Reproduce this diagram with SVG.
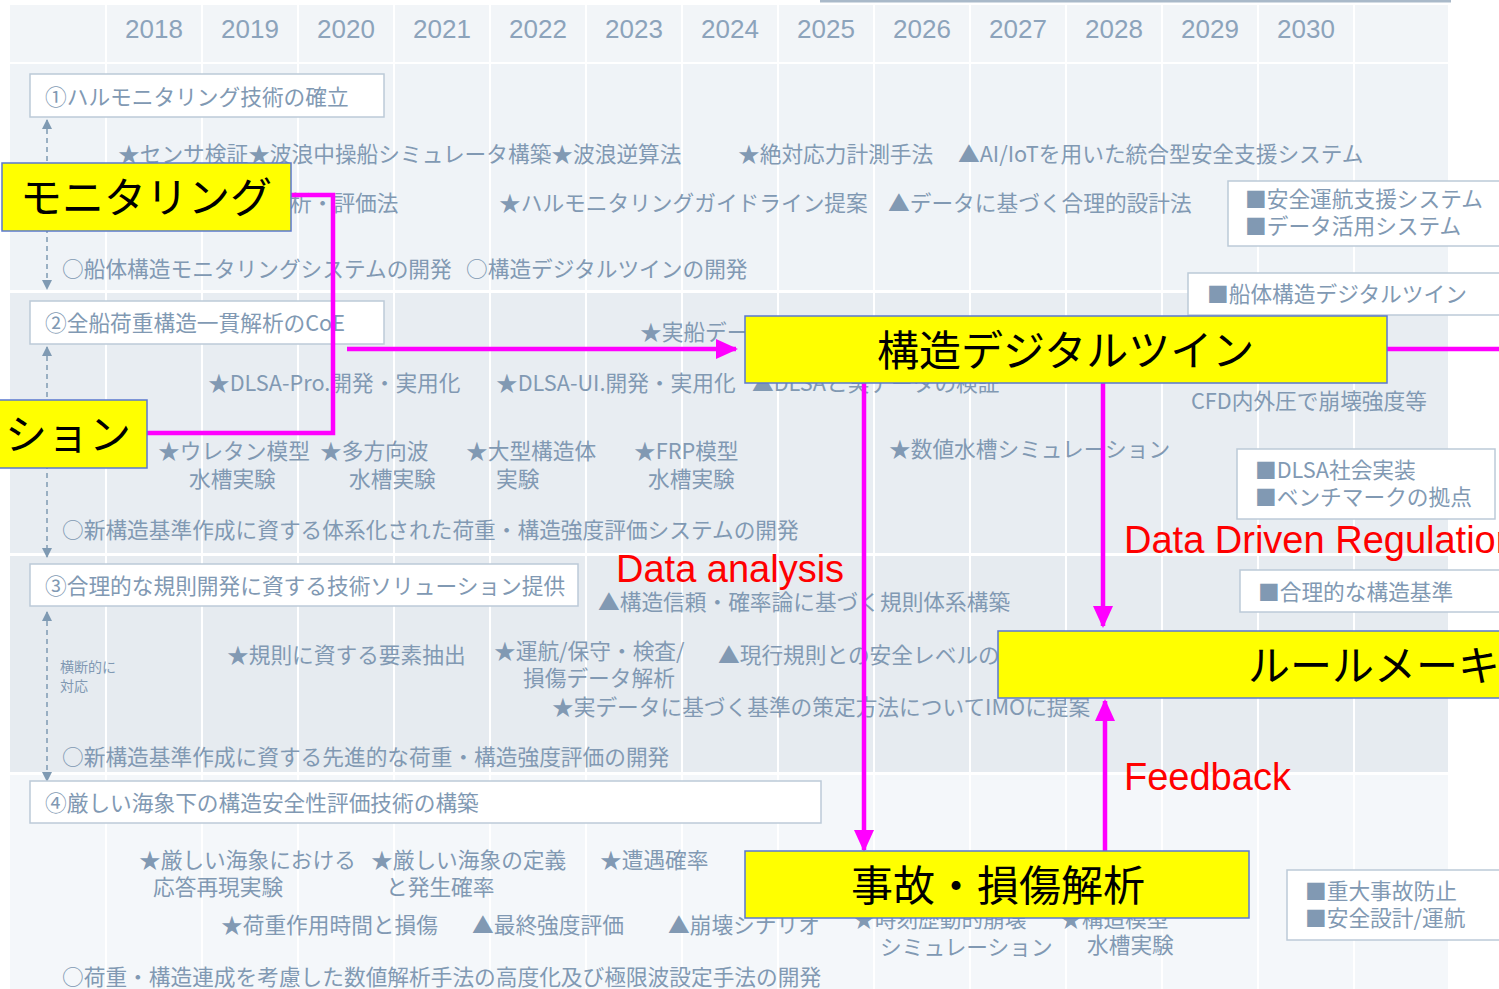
<svg xmlns="http://www.w3.org/2000/svg" width="1499" height="989" viewBox="0 0 1499 989">
<defs>
<style>
.t{font-family:"Noto Sans CJK JP","Noto Sans",sans-serif;font-size:21.7px;fill:#8199b3}
.s{font-family:"Noto Sans CJK JP","Noto Sans",sans-serif;font-size:14px;fill:#8199b3}
.yr{font-family:"Liberation Sans",Arial,sans-serif;font-size:26px;fill:#8ca3bb}
.box{fill:#ffffff;stroke:#bccad8;stroke-width:1.5}
.col{stroke:#ffffff;stroke-width:2}
.node rect{fill:#ffff00;stroke:#5a78d0;stroke-width:1.5}
.node text{font-family:"Noto Sans CJK JP","Noto Sans",sans-serif;font-size:42px;fill:#000000}
.lbl{font-family:"Liberation Sans",Arial,sans-serif;font-size:38px;fill:#ff0000}
.mg{stroke:#ff00ff;stroke-width:4.5;fill:none}
.dash{stroke:#7f9ab3;stroke-width:1.5;stroke-dasharray:5 4;fill:none}
</style>
<marker id="ah" markerUnits="userSpaceOnUse" markerWidth="22" markerHeight="20" refX="20" refY="10" orient="auto">
<path d="M0,0 L22,10 L0,20 Z" fill="#ff00ff"/>
</marker>
<marker id="da" markerUnits="userSpaceOnUse" markerWidth="10" markerHeight="10" refX="9" refY="5" orient="auto-start-reverse">
<path d="M0,0 L10,5 L0,10 Z" fill="#7f9ab3"/>
</marker>
</defs>

<g id="background">
<rect x="0" y="0" width="1499" height="989" fill="#ffffff"/>
<rect x="10" y="5" width="1438" height="57" fill="#f2f5f8"/>
<rect x="10" y="64" width="1438" height="226" fill="#eff3f7"/>
<rect x="10" y="293" width="1438" height="260" fill="#e8edf2"/>
<rect x="10" y="556" width="1438" height="216" fill="#e6ebf0"/>
<rect x="10" y="775" width="1438" height="214" fill="#f4f7fa"/>
<g class="col">
<line x1="106" y1="5" x2="106" y2="989"/><line x1="202" y1="5" x2="202" y2="989"/>
<line x1="298" y1="5" x2="298" y2="989"/><line x1="394" y1="5" x2="394" y2="989"/>
<line x1="490" y1="5" x2="490" y2="989"/><line x1="586" y1="5" x2="586" y2="989"/>
<line x1="682" y1="5" x2="682" y2="989"/><line x1="778" y1="5" x2="778" y2="989"/>
<line x1="874" y1="5" x2="874" y2="989"/><line x1="970" y1="5" x2="970" y2="989"/>
<line x1="1066" y1="5" x2="1066" y2="989"/><line x1="1162" y1="5" x2="1162" y2="989"/>
<line x1="1258" y1="5" x2="1258" y2="989"/><line x1="1354" y1="5" x2="1354" y2="989"/>
</g>
<line x1="820" y1="1" x2="1451" y2="1" stroke="#a9b9c9" stroke-width="3"/>
</g>

<g id="years" class="yr" text-anchor="middle">
<text x="154" y="38">2018</text><text x="250" y="38">2019</text><text x="346" y="38">2020</text>
<text x="442" y="38">2021</text><text x="538" y="38">2022</text><text x="634" y="38">2023</text>
<text x="730" y="38">2024</text><text x="826" y="38">2025</text><text x="922" y="38">2026</text>
<text x="1018" y="38">2027</text><text x="1114" y="38">2028</text><text x="1210" y="38">2029</text>
<text x="1306" y="38">2030</text>
</g>

<g id="row1">
<rect class="box" x="30" y="74" width="354" height="43"/>
<text class="t" x="45" y="105">①ハルモニタリング技術の確立</text>
<line class="dash" x1="47" y1="120" x2="47" y2="289" marker-start="url(#da)" marker-end="url(#da)"/>
<text class="t" x="118" y="162">★センサ検証★波浪中操船シミュレータ構築★波浪逆算法</text>
<text class="t" x="738" y="162">★絶対応力計測手法</text>
<text class="t" x="958" y="162">▲AI/IoTを用いた統合型安全支援システム</text>
<text class="t" x="290" y="211">析・評価法</text>
<text class="t" x="499" y="211">★ハルモニタリングガイドライン提案</text>
<text class="t" x="888" y="211">▲データに基づく合理的設計法</text>
<rect class="box" x="1228" y="181" width="285" height="65"/>
<text class="t" x="1245" y="207">■安全運航支援システム</text>
<text class="t" x="1245" y="234">■データ活用システム</text>
<text class="t" x="62" y="277">○船体構造モニタリングシステムの開発</text>
<text class="t" x="466" y="277">○構造デジタルツインの開発</text>
<rect class="box" x="1188" y="273" width="325" height="42"/>
<text class="t" x="1207" y="302">■船体構造デジタルツイン</text>
</g>

<g id="row2">
<rect class="box" x="30" y="301" width="354" height="43"/>
<text class="t" x="45" y="331">②全船荷重構造一貫解析のCoE</text>
<line class="dash" x1="47" y1="347" x2="47" y2="557" marker-start="url(#da)" marker-end="url(#da)"/>
<text class="t" x="640" y="340">★実船デー</text>
<text class="t" x="208" y="391">★DLSA-Pro.開発・実用化</text>
<text class="t" x="496" y="391">★DLSA-UI.開発・実用化</text>
<text class="t" x="752" y="391">▲DLSAと実データの検証</text>
<text class="t" x="1191" y="409">CFD内外圧で崩壊強度等</text>
<text class="t" x="158" y="459">★ウレタン模型</text><text class="t" x="189" y="487">水槽実験</text>
<text class="t" x="320" y="459">★多方向波</text><text class="t" x="349" y="487">水槽実験</text>
<text class="t" x="466" y="459">★大型構造体</text><text class="t" x="496" y="487">実験</text>
<text class="t" x="634" y="459">★FRP模型</text><text class="t" x="648" y="487">水槽実験</text>
<text class="t" x="889" y="457">★数値水槽シミュレーション</text>
<rect class="box" x="1237" y="449" width="258" height="70"/>
<text class="t" x="1255" y="478">■DLSA社会実装</text>
<text class="t" x="1255" y="505">■ベンチマークの拠点</text>
<text class="t" x="62" y="538">○新構造基準作成に資する体系化された荷重・構造強度評価システムの開発</text>
</g>

<g id="row3">
<rect class="box" x="30" y="564" width="548" height="42"/>
<text class="t" x="45" y="594">③合理的な規則開発に資する技術ソリューション提供</text>
<line class="dash" x1="47" y1="612" x2="47" y2="781" marker-start="url(#da)" marker-end="url(#da)"/>
<text class="t" x="598" y="610">▲構造信頼・確率論に基づく規則体系構築</text>
<rect class="box" x="1240" y="570" width="265" height="42"/>
<text class="t" x="1258" y="600">■合理的な構造基準</text>
<text class="s" x="60" y="672">横断的に</text>
<text class="s" x="60" y="691">対応</text>
<text class="t" x="227" y="663">★規則に資する要素抽出</text>
<text class="t" x="494" y="659">★運航/保守・検査/</text>
<text class="t" x="523" y="686">損傷データ解析</text>
<text class="t" x="718" y="663">▲現行規則との安全レベルの</text>
<text class="t" x="552" y="715">★実データに基づく基準の策定方法についてIMOに提案</text>
<text class="t" x="62" y="765">○新構造基準作成に資する先進的な荷重・構造強度評価の開発</text>
</g>

<g id="row4">
<rect class="box" x="30" y="781" width="791" height="42"/>
<text class="t" x="45" y="811">④厳しい海象下の構造安全性評価技術の構築</text>
<text class="t" x="139" y="868">★厳しい海象における</text><text class="t" x="153" y="895">応答再現実験</text>
<text class="t" x="371" y="868">★厳しい海象の定義</text><text class="t" x="386" y="895">と発生確率</text>
<text class="t" x="600" y="868">★遭遇確率</text>
<text class="t" x="221" y="933">★荷重作用時間と損傷</text>
<text class="t" x="472" y="933">▲最終強度評価</text>
<text class="t" x="668" y="933">▲崩壊シナリオ</text>
<text class="t" x="853" y="927">★時刻歴動的崩壊</text><text class="t" x="880" y="955">シミュレーション</text>
<text class="t" x="1060" y="927">★構造模型</text><text class="t" x="1087" y="953">水槽実験</text>
<rect class="box" x="1287" y="870" width="225" height="70"/>
<text class="t" x="1305" y="899">■重大事故防止</text>
<text class="t" x="1305" y="926">■安全設計/運航</text>
<text class="t" x="62" y="985">○荷重・構造連成を考慮した数値解析手法の高度化及び極限波設定手法の開発</text>
</g>

<g id="connectors">
<polyline class="mg" points="291,195 333,195 333,433 147,433"/>
<line class="mg" x1="347" y1="349" x2="736" y2="349" marker-end="url(#ah)"/>
<line class="mg" x1="1387" y1="349" x2="1499" y2="349"/>
<line class="mg" x1="864" y1="383" x2="864" y2="850" marker-end="url(#ah)"/>
<line class="mg" x1="1103" y1="383" x2="1103" y2="626" marker-end="url(#ah)"/>
<line class="mg" x1="1105" y1="851" x2="1105" y2="701" marker-end="url(#ah)"/>
<text class="lbl" x="616" y="582">Data analysis</text>
<text class="lbl" x="1124" y="553">Data Driven Regulation</text>
<text class="lbl" x="1124" y="790">Feedback</text>
</g>

<g id="node-monitoring" class="node">
<rect x="2" y="163" width="289" height="68"/>
<text x="20" y="213">モニタリング</text>
</g>
<g id="node-simulation" class="node">
<rect x="-2" y="400" width="149" height="68"/>
<text x="5" y="450">ション</text>
</g>
<g id="node-digitaltwin" class="node">
<rect x="745" y="316" width="642" height="67"/>
<text x="877" y="366">構造デジタルツイン</text>
</g>
<g id="node-rulemaking" class="node">
<rect x="998" y="631" width="510" height="67"/>
<text x="1248" y="681">ルールメーキング</text>
</g>
<g id="node-accident" class="node">
<rect x="745" y="851" width="504" height="67"/>
<text x="851" y="901">事故・損傷解析</text>
</g>
</svg>
